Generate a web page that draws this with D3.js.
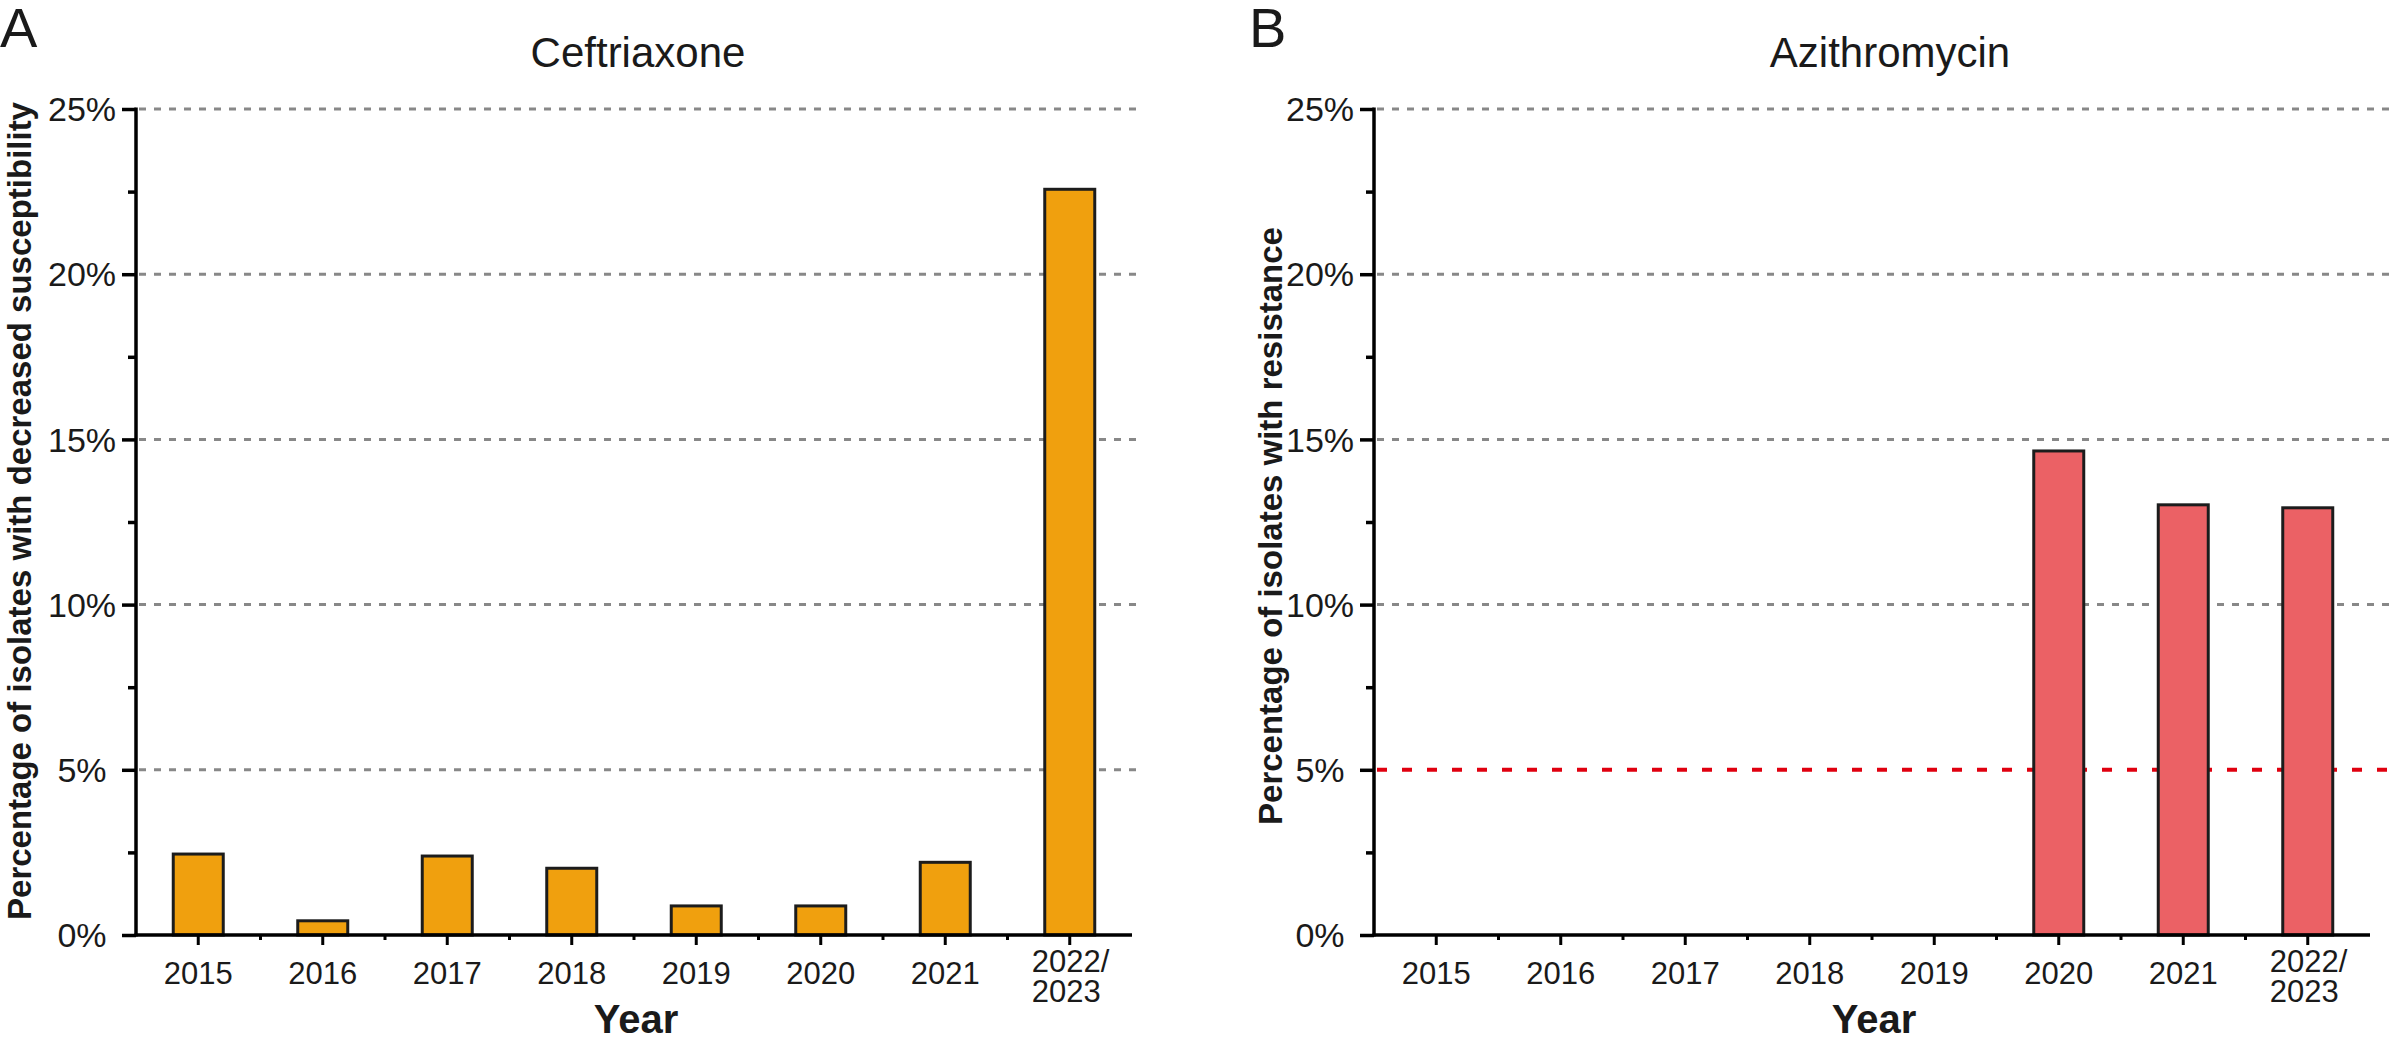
<!DOCTYPE html>
<html>
<head>
<meta charset="utf-8">
<script src="https://cdn.jsdelivr.net/npm/d3@7"></script>
<style>
  body { margin: 0; background: #fff; }
  text { font-family: "Liberation Sans", Arial, sans-serif; fill: #1a1a1a; }
</style>
</head>
<body>
<div id="chart"></div>
<script>
// Data
var years = ["2015", "2016", "2017", "2018", "2019", "2020", "2021", "2022/2023"];
var ceftriaxoneValues = [2.45, 0.43, 2.39, 2.02, 0.88, 0.88, 2.2, 22.57];
var azithromycinValues = [null, null, null, null, null, 14.65, 13.02, 12.93];
var yTicks = [0, 5, 10, 15, 20, 25];
var yMinorTicks = [2.5, 7.5, 12.5, 17.5, 22.5];
var azithromycinThreshold = 5;

var svgWidth = 2395;
var svgHeight = 1038;

var svg = d3.select("#chart")
    .append("svg")
    .attr("width", svgWidth)
    .attr("height", svgHeight);

function drawPanel(p) {
    var g = svg.append("g");

    var x = d3.scaleBand()
        .domain(years)
        .range([p.left, p.right])
        .paddingInner(0)
        .paddingOuter(0);

    var y = d3.scaleLinear()
        .domain([0, 25])
        .range([935, 109]);

    var barWidth = 50;

    // gray dashed gridlines
    g.selectAll(".grid")
        .data(yTicks.filter(d => d > 0 && d !== p.threshold))
        .enter()
        .append("line")
        .attr("x1", p.left + 3)
        .attr("x2", p.gridEnd)
        .attr("y1", d => y(d))
        .attr("y2", d => y(d))
        .attr("stroke", "#888")
        .attr("stroke-width", 3)
        .attr("stroke-dasharray", "7,8");

    // threshold line (red), behind the bars
    if (p.threshold != null) {
        g.append("line")
            .attr("x1", p.left + 3)
            .attr("x2", p.gridEnd)
            .attr("y1", y(p.threshold))
            .attr("y2", y(p.threshold))
            .attr("stroke", "#e0000f")
            .attr("stroke-width", 4)
            .attr("stroke-dasharray", "10,15");
    }

    // bars
    var rows = years.map((yr, i) => ({ year: yr, value: p.values[i] }))
        .filter(d => d.value != null);

    g.selectAll(".bar")
        .data(rows)
        .enter()
        .append("rect")
        .attr("x", d => x(d.year) + x.bandwidth() / 2 - barWidth / 2)
        .attr("y", d => y(d.value))
        .attr("width", barWidth)
        .attr("height", d => y(0) - y(d.value))
        .attr("fill", p.color)
        .attr("stroke", "#1c1c1c")
        .attr("stroke-width", 3);

    // y axis
    var leftAxis = d3.axisLeft(y).tickValues(yTicks).tickSize(14).tickFormat("");
    var yAxisG = g.append("g")
        .attr("transform", `translate(${p.left}, 0)`)
        .call(leftAxis);
    yAxisG.select(".domain").remove();
    yAxisG.selectAll("line").attr("stroke", "#000").attr("stroke-width", 3.5);

    var minorAxis = d3.axisLeft(y).tickValues(yMinorTicks).tickSize(8).tickFormat("");
    var yMinorG = g.append("g")
        .attr("transform", `translate(${p.left}, 0)`)
        .call(minorAxis);
    yMinorG.select(".domain").remove();
    yMinorG.selectAll("line").attr("stroke", "#000").attr("stroke-width", 3.5);

    g.append("line")
        .attr("x1", p.left).attr("x2", p.left)
        .attr("y1", y(25) - 1.5).attr("y2", y(0) + 1.5)
        .attr("stroke", "#000").attr("stroke-width", 3.5);

    g.selectAll(".ylab")
        .data(yTicks)
        .enter()
        .append("text")
        .attr("x", p.left - 54)
        .attr("y", d => y(d))
        .attr("dy", "0.36em")
        .attr("text-anchor", "middle")
        .style("font-size", "34px")
        .text(d => d + "%");

    // x axis
    g.append("line")
        .attr("x1", p.left - 1.5).attr("x2", p.right)
        .attr("y1", y(0)).attr("y2", y(0))
        .attr("stroke", "#000").attr("stroke-width", 3.5);

    g.selectAll(".xmajor")
        .data(years)
        .enter()
        .append("line")
        .attr("x1", d => x(d) + x.bandwidth() / 2)
        .attr("x2", d => x(d) + x.bandwidth() / 2)
        .attr("y1", y(0))
        .attr("y2", y(0) + 10)
        .attr("stroke", "#000").attr("stroke-width", 3);

    g.selectAll(".xminor")
        .data(years.slice(1))
        .enter()
        .append("line")
        .attr("x1", d => x(d))
        .attr("x2", d => x(d))
        .attr("y1", y(0))
        .attr("y2", y(0) + 5)
        .attr("stroke", "#000").attr("stroke-width", 3);

    years.forEach(function(yr) {
        var cx = x(yr) + x.bandwidth() / 2;
        var parts = yr.split("/");
        if (parts.length === 1) {
            g.append("text")
                .attr("x", cx)
                .attr("y", 984)
                .attr("text-anchor", "middle")
                .style("font-size", "31px")
                .text(yr);
        } else {
            var t = g.append("text")
                .attr("x", cx - 38)
                .attr("y", 972)
                .style("font-size", "31px");
            t.append("tspan").attr("x", cx - 38).attr("y", 972).text(parts[0] + "/");
            t.append("tspan").attr("x", cx - 38).attr("y", 1002).text(parts[1]);
        }
    });

    // axis titles
    g.append("text")
        .attr("transform", `translate(${p.yTitleX}, ${p.yTitleY}) rotate(-90)`)
        .attr("text-anchor", "middle")
        .style("font-size", "33px")
        .style("font-weight", "bold")
        .text(p.yTitle);

    g.append("text")
        .attr("x", (p.left + p.right) / 2 + 2)
        .attr("y", 1033)
        .attr("text-anchor", "middle")
        .style("font-size", "40px")
        .style("font-weight", "bold")
        .text("Year");

    // panel title and letter
    g.append("text")
        .attr("x", p.titleX)
        .attr("y", 67)
        .attr("text-anchor", "middle")
        .style("font-size", "42px")
        .text(p.title);

    g.append("text")
        .attr("x", p.letterX)
        .attr("y", 47)
        .style("font-size", "56px")
        .text(p.letter);
}

drawPanel({
    left: 136, right: 1132, gridEnd: 1139,
    values: ceftriaxoneValues, color: "#f0a00e", threshold: null,
    title: "Ceftriaxone", titleX: 638, letter: "A", letterX: 0,
    yTitle: "Percentage of isolates with decreased susceptibility",
    yTitleX: 31, yTitleY: 511
});

drawPanel({
    left: 1374, right: 2370, gridEnd: 2393,
    values: azithromycinValues, color: "#eb6165", threshold: azithromycinThreshold,
    title: "Azithromycin", titleX: 1890, letter: "B", letterX: 1249,
    yTitle: "Percentage of isolates with resistance",
    yTitleX: 1282, yTitleY: 526
});
</script>
</body>
</html>
